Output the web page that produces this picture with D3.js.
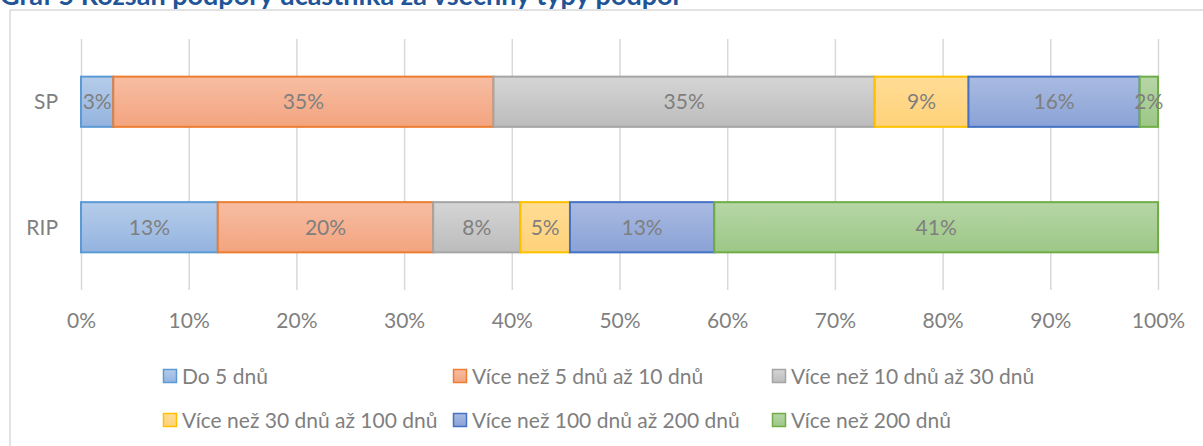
<!DOCTYPE html>
<html>
<head>
<meta charset="utf-8">
<script src="https://cdn.jsdelivr.net/npm/d3@7"></script>
<style>
    body { margin: 0; background: #fff; }
    .chart { width: 1203px; height: 446px; overflow: hidden; }
    text { font-family: Lato, "Open Sans", sans-serif; }
</style>
</head>
<body>
<div class="chart"></div>
<script>
//Data (shares in %, each row sums to 100)
const categories = ["SP", "RIP"];
const seriesNames = [
    "Do 5 dnů",
    "Více než 5 dnů až 10 dnů",
    "Více než 10 dnů až 30 dnů",
    "Více než 30 dnů až 100 dnů",
    "Více než 100 dnů až 200 dnů",
    "Více než 200 dnů"
];
const spValues = [3.0, 35.3, 35.4, 8.7, 15.9, 1.7];
const ripValues = [12.7, 20.0, 8.1, 4.6, 13.4, 41.2];
const tickValues = [0, 10, 20, 30, 40, 50, 60, 70, 80, 90, 100];
const titleText = "Graf 5 Rozsah podpory účastníka za všechny typy podpor";

//Excel-ish colours: [gradient top, gradient bottom, outline]
const palette = [
    ["#b6cdea", "#93b3df", "#5b9bd5"],
    ["#f7bda3", "#f3a47f", "#ed7d31"],
    ["#d5d5d5", "#bcbcbc", "#a5a5a5"],
    ["#ffdc95", "#ffd27a", "#ffc000"],
    ["#aabbe2", "#8aa2d6", "#4472c4"],
    ["#b6d6a6", "#9dc787", "#70ad47"]
];

let chart = {};

init();

function init() {
    chart.rows = [spValues, ripValues];

    setDimensions();
    setScales();
    appendElements();
}

function setDimensions() {
    chart.width = 1203;
    chart.height = 446;
    chart.plotLeft = 81;
    chart.plotRight = 1158;
    chart.plotTop = 39;
    chart.plotBottom = 290;
    chart.fontSize = "21px";
}

function setScales() {
    chart.x = d3.scaleLinear()
        .domain([0, 100])
        .range([chart.plotLeft, chart.plotRight]);

    chart.y = d3.scaleBand()
        .domain(categories)
        .range([chart.plotTop, chart.plotBottom])
        .paddingInner(0.6)
        .paddingOuter(0.3);
}

function appendElements() {
    chart.svg = d3.select(".chart").append("svg")
        .attr("width", chart.width)
        .attr("height", chart.height);

    //gradients for the bar fills
    let defs = chart.svg.append("defs");
    palette.forEach((c, i) => {
        let g = defs.append("linearGradient")
            .attr("id", "grad" + i)
            .attr("x1", 0).attr("y1", 0)
            .attr("x2", 0).attr("y2", 1);
        g.append("stop").attr("offset", "0%").attr("stop-color", c[0]);
        g.append("stop").attr("offset", "100%").attr("stop-color", c[1]);
    });

    //title, cut at the top of the picture (as in the original)
    chart.svg.append("text")
        .attr("x", 0)
        .attr("y", 5)
        .style("font-weight", "bold")
        .style("font-size", "27px")
        .style("fill", "#1f5597")
        .text(titleText);

    //chart frame
    chart.svg.append("rect")
        .attr("x", 10)
        .attr("y", 10)
        .attr("width", 1220)
        .attr("height", 460)
        .attr("fill", "none")
        .attr("stroke", "#d9d9d9")
        .attr("stroke-width", 1.5);

    //x axis with gridlines
    let xAxis = d3.axisBottom(chart.x)
        .tickValues(tickValues)
        .tickFormat(d => d + "%")
        .tickSize(-(chart.plotBottom - chart.plotTop))
        .tickPadding(23);

    chart.axis = chart.svg.append("g")
        .attr("transform", `translate(0,${chart.plotBottom})`)
        .call(xAxis);

    chart.axis.select(".domain").remove();
    chart.axis.selectAll("line")
        .attr("stroke", "#d9d9d9")
        .attr("stroke-width", 1.5);
    chart.axis.selectAll("text")
        .style("font-size", chart.fontSize)
        .style("font-family", "Lato, sans-serif")
        .attr("fill", "#7f7f7f");

    //category labels
    chart.svg.selectAll("text.cat")
        .data(categories)
        .enter().append("text")
        .attr("class", "cat")
        .attr("x", 58)
        .attr("y", d => chart.y(d) + chart.y.bandwidth() / 2)
        .attr("dy", "0.36em")
        .attr("text-anchor", "end")
        .style("font-size", chart.fontSize)
        .attr("fill", "#7f7f7f")
        .text(d => d);

    //stacked segments
    let segs = [];
    chart.rows.forEach((vals, r) => {
        let acc = 0;
        vals.forEach((v, i) => {
            segs.push({ cat: categories[r], i: i, v: v, x0: acc, x1: acc + v });
            acc += v;
        });
    });

    chart.bars = chart.svg.selectAll("rect.seg")
        .data(segs)
        .enter().append("rect")
        .attr("class", "seg")
        .attr("x", d => chart.x(d.x0))
        .attr("y", d => chart.y(d.cat))
        .attr("width", d => chart.x(d.x1) - chart.x(d.x0))
        .attr("height", chart.y.bandwidth())
        .attr("fill", d => `url(#grad${d.i})`)
        .attr("stroke", d => palette[d.i][2])
        .attr("stroke-width", 2);

    chart.svg.selectAll("text.lbl")
        .data(segs)
        .enter().append("text")
        .attr("class", "lbl")
        .attr("x", d => chart.x((d.x0 + d.x1) / 2))
        .attr("y", d => chart.y(d.cat) + chart.y.bandwidth() / 2)
        .attr("dy", "0.36em")
        .attr("text-anchor", "middle")
        .style("font-size", chart.fontSize)
        .attr("fill", "#7f7f7f")
        .text(d => Math.round(d.v) + "%");

    //legend, two rows of three
    let legendX = [163, 453, 772];
    let legendY = [376, 420];

    let items = chart.svg.selectAll("g.legend")
        .data(seriesNames)
        .enter().append("g")
        .attr("class", "legend")
        .attr("transform", (d, i) => `translate(${legendX[i % 3]},${legendY[Math.floor(i / 3)]})`);

    items.append("rect")
        .attr("x", 0.5)
        .attr("y", -6.5)
        .attr("width", 13)
        .attr("height", 13)
        .attr("fill", (d, i) => `url(#grad${i})`)
        .attr("stroke", (d, i) => palette[i][2])
        .attr("stroke-width", 1.5);

    items.append("text")
        .attr("x", 19)
        .attr("y", 0)
        .attr("dy", "0.36em")
        .style("font-size", chart.fontSize)
        .attr("fill", "#7f7f7f")
        .text(d => d);
}
</script>
</body>
</html>
